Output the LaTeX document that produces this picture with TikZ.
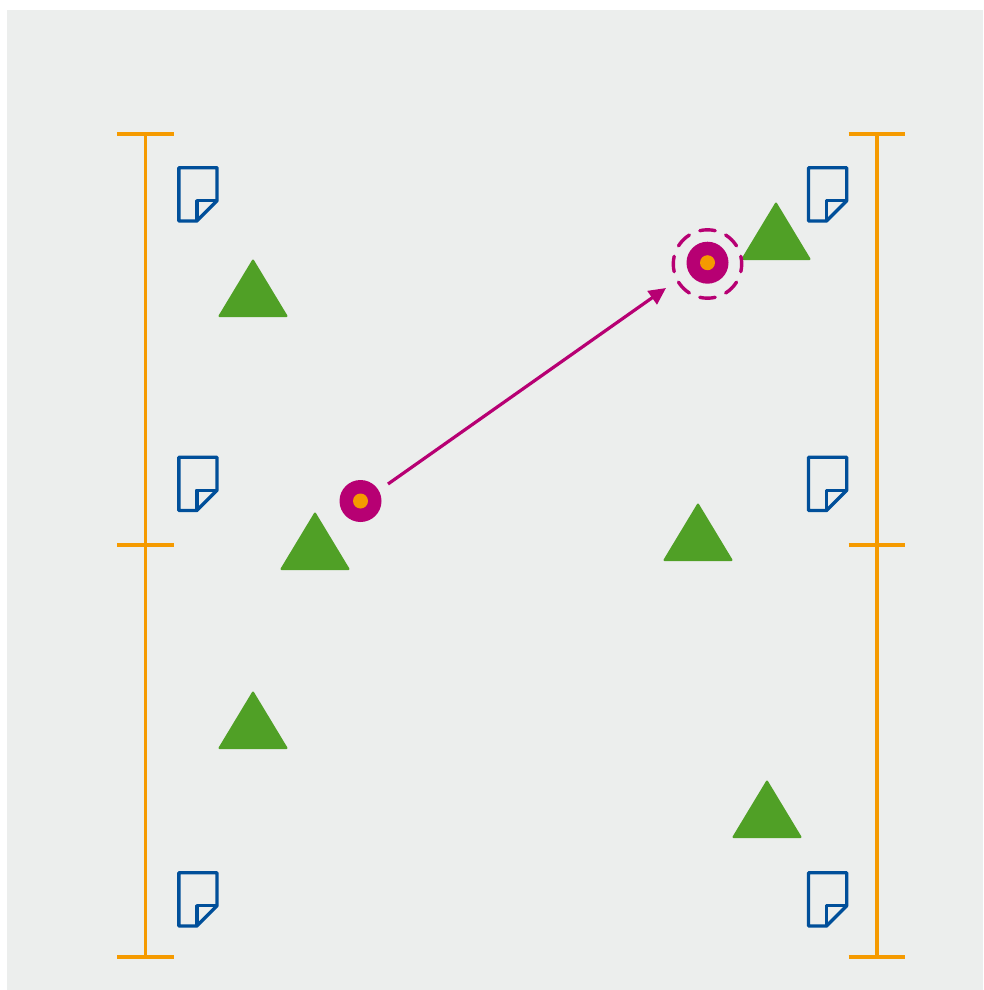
\documentclass[tikz,border=0pt]{standalone}
\usetikzlibrary{arrows.meta}
\definecolor{bgc}{HTML}{ECEEED}
\definecolor{orangec}{HTML}{F59A00}
\definecolor{bluec}{HTML}{004F9A}
\definecolor{greenc}{HTML}{50A026}
\definecolor{magc}{HTML}{B70073}
\tikzset{
  rail/.style={draw=orangec,line width=3.4pt},
  docline/.style={draw=bluec,line width=3.4pt,line join=round},
  tri/.style={fill=greenc,draw=greenc,line width=2pt,line join=round},
  discout/.style={circle,fill=magc,minimum size=42pt,inner sep=0pt},
  discin/.style={circle,fill=orangec,minimum size=15pt,inner sep=0pt},
  halo/.style={draw=magc,line width=3.4pt,line cap=round},
  move/.style={draw=magc,line width=3.2pt,-{Triangle[length=17pt,width=16pt]}}
}
\newcommand{\docicon}[2]{%
  \draw[docline,shift={(#1,#2)}] (0,0) -- (38.2,0) -- (38.2,33) -- (18,53.3) -- (0,53.3) -- cycle;
  \draw[docline,shift={(#1,#2)}] (18,53.3) -- (18,33) -- (38.2,33);
}
\newcommand{\tria}[2]{%
  \draw[tri,shift={(#1,#2)}] (0,0.5) -- (33.5,56) -- (-33.5,56) -- cycle;
}
\begin{document}
\begin{tikzpicture}[x=1pt,y=-1pt]
\useasboundingbox (0,0) rectangle (983,990);
\fill[bgc] (7,10) rectangle (983,990);
% rails
\foreach \x in {145.5,877}{
  \draw[rail] (\x,134) -- (\x,957);
  \foreach \y in {134,545,957}
    \draw[rail] (\x-28.5,\y) -- (\x+28,\y);
}
% documents
\docicon{178.8}{167.7}
\docicon{178.8}{457.2}
\docicon{178.8}{872.7}
\docicon{808.5}{167.7}
\docicon{808.5}{457.2}
\docicon{808.5}{872.7}
% triangles
\tria{253}{260}
\tria{315}{513}
\tria{253}{692}
\tria{776}{203}
\tria{698}{504}
\tria{767}{781}
% discs
\node[discout] (src) at (360.5,501) {};
\node[discin] (srcdot) at (src) {};
\node[discout] (dst) at (707.5,262.7) {};
\node[discin] (dstdot) at (dst) {};
\coordinate (haloc) at (707.5,264);
\foreach \a in {0,45,...,315}
  \draw[halo] (haloc) ++(\a-13:34.2) arc[start angle=\a-13,end angle=\a+13,radius=34.2];
% arrow
\coordinate (from) at (388,484);
\coordinate (to) at (666,288);
\draw[move] (from) -- (to);
\end{tikzpicture}
\end{document}
